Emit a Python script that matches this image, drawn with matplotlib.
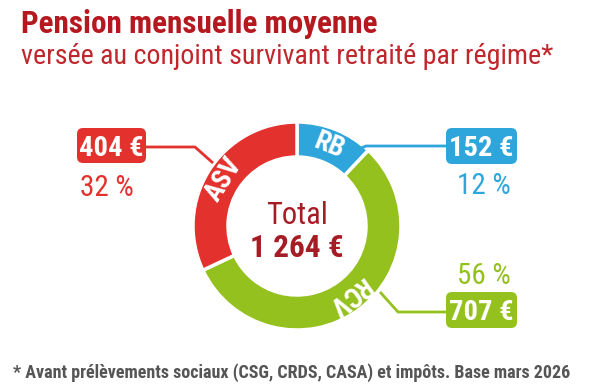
import matplotlib
matplotlib.use("Agg")
import matplotlib.pyplot as plt
import matplotlib.font_manager as fm
from matplotlib.patches import FancyBboxPatch
import numpy as np

# ---------------- data ----------------
regimes = ["RB", "RCV", "ASV"]
amounts = [152, 707, 404]
amount_labels = ["152 €", "707 €", "404 €"]
percent_labels = ["12 %", "56 %", "32 %"]
total_label = "1 264 €"
colors = ["#2ea6dc", "#95c11f", "#e3312d"]

title = "Pension mensuelle moyenne"
subtitle = "versée au conjoint survivant retraité par régime*"
footnote = "* Avant prélèvements sociaux (CSG, CRDS, CASA) et impôts. Base mars 2026"

# ---------------- font choice ----------------
ttf = fm.fontManager.ttflist
names = {f.name for f in ttf}
cond = {"condensed", "semi-condensed", "extra-condensed", "ultra-condensed"}
FAM, STR = "Liberation Sans", "normal"
for cand in ["Roboto Condensed", "Open Sans Condensed", "Liberation Sans Narrow"]:
    if cand in names:
        FAM, STR = cand, "normal"
        break
else:
    for cand in ["Noto Sans", "DejaVu Sans"]:
        if any(f.name == cand and f.stretch in cond for f in ttf):
            FAM, STR = cand, "condensed"
            break

W, H = 596, 385
fig = plt.figure(figsize=(W / 100, H / 100), dpi=100)
ax = fig.add_axes([0, 0, 1, 1])


def Y(y):
    return H - y


cx, cy = 297, 226
R, width = 104, 35

ax.pie(amounts, colors=colors, startangle=90, counterclock=False,
       center=(cx, Y(cy)), radius=R,
       wedgeprops=dict(width=width, edgecolor="white", linewidth=2.5))
ax.set_xlim(0, W)
ax.set_ylim(0, H)
ax.set_aspect("equal")
ax.axis("off")

fp = dict(family=FAM, stretch=STR)

# ring labels
total = sum(amounts)
start = 90.0
rmid = R - width / 2
for name, v in zip(regimes, amounts):
    span = 360.0 * v / total
    mid = start - span / 2
    start -= span
    a = np.deg2rad(mid)
    ax.text(cx + rmid * np.cos(a), Y(cy) + rmid * np.sin(a), name,
            rotation=mid - 90, rotation_mode="anchor", ha="center", va="center",
            color="white", fontsize=19.5, fontweight="bold", **fp)

# leader lines (pixel layout)
ax.plot([146, 195, 213], [Y(147), Y(147), Y(163)], color=colors[2], lw=2, solid_capstyle="butt")
ax.plot([357, 366, 446], [Y(150), Y(146), Y(146)], color=colors[0], lw=2, solid_capstyle="butt")
ax.plot([380, 398, 446], [Y(292), Y(312), Y(312)], color=colors[1], lw=2, solid_capstyle="butt")

# value boxes
boxes = {
    "ASV": (77, 128, 146, 163, 107, 185),
    "RB": (446, 128, 517, 164, 484, 183),
    "RCV": (446, 292, 517, 328, 484, 273),
}
for name, lab, pct, col in zip(regimes, amount_labels, percent_labels, colors):
    x0, y0, x1, y1, px, py = boxes[name]
    ax.add_patch(FancyBboxPatch((x0 + 5, Y(y1) + 5), x1 - x0 - 10, y1 - y0 - 10,
                                boxstyle="round,pad=5,rounding_size=6",
                                fc=col, ec="none"))
    ax.text((x0 + x1) / 2, Y((y0 + y1) / 2), lab, ha="center", va="center_baseline",
            color="white", fontsize=20.5, fontweight="bold", **fp)
    ax.text(px, Y(py), pct, ha="center", va="center_baseline", color=col,
            fontsize=21, **fp)

# center
ax.text(cx, Y(213), "Total", ha="center", va="center_baseline", color="#a51d24",
        fontsize=22, **fp)
ax.text(cx, Y(245), total_label, ha="center", va="center_baseline", color="#a51d24",
        fontsize=22.5, fontweight="bold", **fp)

renderer = fig.canvas.get_renderer()


def fit(x, y, s, target_w, size0, **kw):
    t = ax.text(x, Y(y), s, fontsize=size0, ha="left", va="baseline", **fp, **kw)
    w = t.get_window_extent(renderer).width
    t.set_fontsize(size0 * target_w / w)
    return t


fit(21, 33, title, 355, 20, color="#b5191f", fontweight="bold")
fit(21, 64, subtitle, 532, 18, color="#c0272d")
fit(13, 378, footnote, 562, 14, color="#555555", fontweight="bold")

fig.savefig("out.png", dpi=100)
